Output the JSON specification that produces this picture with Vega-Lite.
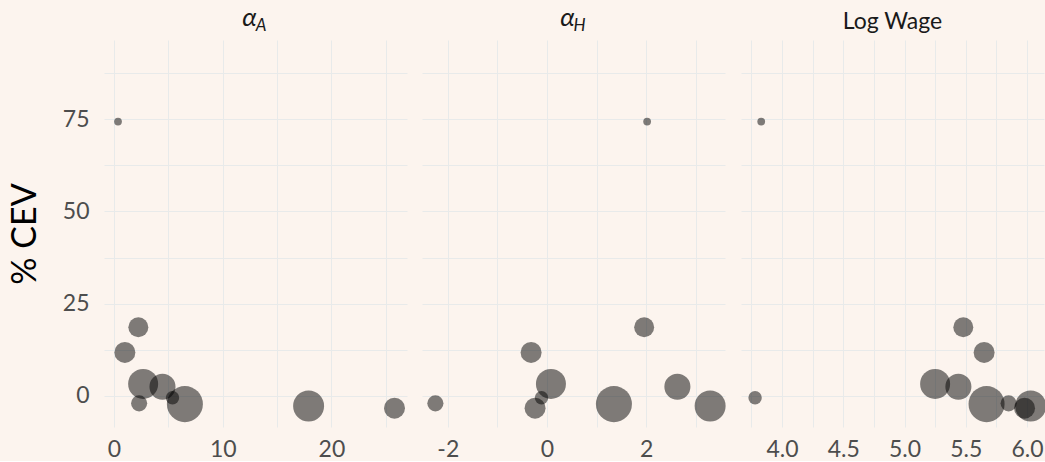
{
  "$schema": "https://vega.github.io/schema/vega-lite/v6.json",
  "background": "#FCF4EE",
  "padding": {"left": 8, "top": 5, "right": 0, "bottom": 0},
  "spacing": 15,
  "datasets": {
    "pts": [
      {"id": 1, "cev": 74.3, "weight": 0.6, "alphaA": 0.37, "alphaH": 2.02, "logwage": 3.83},
      {"id": 2, "cev": 18.6, "weight": 4.0, "alphaA": 2.24, "alphaH": 1.96, "logwage": 5.48},
      {"id": 3, "cev": 11.8, "weight": 4.4, "alphaA": 1.0, "alphaH": -0.32, "logwage": 5.65},
      {"id": 4, "cev": 3.25, "weight": 9.0, "alphaA": 2.68, "alphaH": 0.08, "logwage": 5.25},
      {"id": 5, "cev": 2.5, "weight": 6.8, "alphaA": 4.46, "alphaH": 2.63, "logwage": 5.44},
      {"id": 6, "cev": -2.0, "weight": 2.6, "alphaA": 2.31, "alphaH": -2.25, "logwage": 5.85},
      {"id": 7, "cev": -0.5, "weight": 1.8, "alphaA": 5.38, "alphaH": -0.11, "logwage": 3.78},
      {"id": 8, "cev": -2.2, "weight": 13.0, "alphaA": 6.52, "alphaH": 1.35, "logwage": 5.67},
      {"id": 9, "cev": -2.7, "weight": 9.6, "alphaA": 17.9, "alphaH": 3.29, "logwage": 6.03},
      {"id": 10, "cev": -3.3, "weight": 4.4, "alphaA": 25.8, "alphaH": -0.24, "logwage": 5.98}
    ]
  },
  "hconcat": [
    {
      "width": 303, "height": 387,
      "data": {"name": "pts"},
      "title": {"text": "α\u00a0\u00a0\u200d", "subtitle": "\u200d\u00a0\u00a0\u00a0A", "fontSize": 26, "fontStyle": "italic", "subtitleFontStyle": "italic"},
      "mark": {"type": "circle", "color": "black", "opacity": 0.5, "stroke": null},
      "encoding": {
        "x": {"field": "alphaA", "type": "quantitative", "title": null,
              "scale": {"domain": [-0.92, 26.95], "nice": false, "zero": false},
              "axis": {"values": [0, 5, 10, 15, 20, 25], "labelExpr": "datum.value % 10 == 0 ? '' + datum.value : ''"}},
        "y": {"field": "cev", "type": "quantitative", "title": "% CEV",
              "scale": {"domain": [-8.4, 96.4], "nice": false, "zero": false},
              "axis": {"values": [0, 12.5, 25, 37.5, 50, 62.5, 75, 87.5], "labelExpr": "datum.value % 25 == 0 ? '' + datum.value : ''",
                       "labelPadding": 15,
                       "titleFontSize": 34, "titleColor": "#000000", "titleFontWeight": "normal", "titlePadding": 20}},
        "size": {"field": "weight", "type": "quantitative", "scale": {"domain": [0, 13], "range": [0, 1300]}, "legend": null}
      }
    },
    {
      "width": 303, "height": 387,
      "data": {"name": "pts"},
      "title": {"text": "α\u00a0\u00a0\u200d", "subtitle": "\u200d\u00a0\u00a0\u00a0H", "fontSize": 26, "fontStyle": "italic", "subtitleFontStyle": "italic"},
      "mark": {"type": "circle", "color": "black", "opacity": 0.5, "stroke": null},
      "encoding": {
        "x": {"field": "alphaH", "type": "quantitative", "title": null,
              "scale": {"domain": [-2.52, 3.59], "nice": false, "zero": false},
              "axis": {"values": [-2, -1, 0, 1, 2, 3], "labelExpr": "datum.value % 2 == 0 ? '' + datum.value : ''"}},
        "y": {"field": "cev", "type": "quantitative", "title": null,
              "scale": {"domain": [-8.4, 96.4], "nice": false, "zero": false},
              "axis": {"values": [0, 12.5, 25, 37.5, 50, 62.5, 75, 87.5], "labels": false}},
        "size": {"field": "weight", "type": "quantitative", "scale": {"domain": [0, 13], "range": [0, 1300]}, "legend": null}
      }
    },
    {
      "width": 303, "height": 387,
      "data": {"name": "pts"},
      "title": {"text": "Log Wage"},
      "mark": {"type": "circle", "color": "black", "opacity": 0.5, "stroke": null},
      "encoding": {
        "x": {"field": "logwage", "type": "quantitative", "title": null,
              "scale": {"domain": [3.665, 6.139], "nice": false, "zero": false},
              "axis": {"values": [3.75, 4, 4.25, 4.5, 4.75, 5, 5.25, 5.5, 5.75, 6], "format": ".1f", "labelExpr": "(datum.value * 2) % 1 == 0 ? datum.label : ''"}},
        "y": {"field": "cev", "type": "quantitative", "title": null,
              "scale": {"domain": [-8.4, 96.4], "nice": false, "zero": false},
              "axis": {"values": [0, 12.5, 25, 37.5, 50, 62.5, 75, 87.5], "labels": false}},
        "size": {"field": "weight", "type": "quantitative", "scale": {"domain": [0, 13], "range": [0, 1300]}, "legend": null}
      }
    }
  ],
  "config": {
    "font": "Lato",
    "view": {"stroke": null},
    "axis": {
      "domain": false, "ticks": false, "grid": true, "gridColor": "#E8EAEA", "gridWidth": 1,
      "labelFont": "Lato", "labelFontSize": 23, "labelColor": "#4D4D4D", "labelPadding": 11,
      "titleFont": "Lato"
    },
    "title": {"font": "Lato", "fontSize": 23, "fontWeight": "normal", "color": "#1A1A1A", "offset": 6,
              "subtitleFont": "Lato", "subtitleFontSize": 17, "subtitleColor": "#1A1A1A", "subtitlePadding": -13}
  }
}
